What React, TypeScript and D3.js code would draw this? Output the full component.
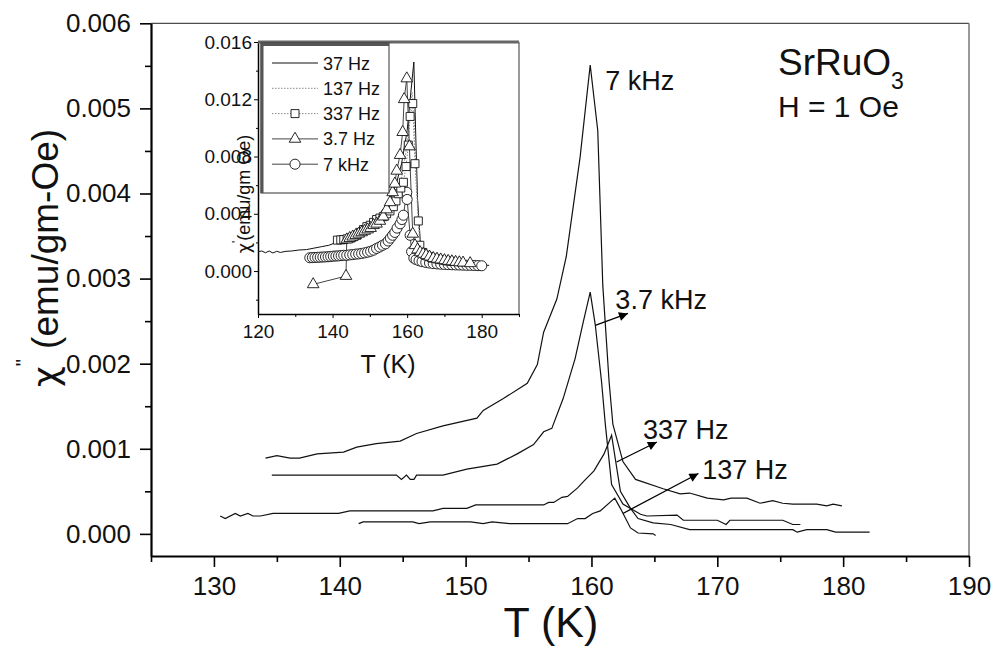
import React, { useEffect, useRef } from 'react';
import * as d3 from 'd3';

const width = 992;
const height = 647;

// main panel: [T (K), chi'' (emu/gm-Oe)]
const kHz7 = [
  [134.1, 0.00089], [135.0, 0.00092], [136.05, 0.00089], [136.8, 0.00089], [138.2, 0.00094],
  [140.3, 0.00096], [141.35, 0.00102], [142.9, 0.00106], [144.8, 0.00109], [146.1, 0.00118],
  [148.2, 0.00127], [150.9, 0.00136], [151.4, 0.00145], [153.0, 0.00159], [154.9, 0.00177],
  [155.7, 0.00199], [156.2, 0.00237], [157.25, 0.00276], [158.0, 0.00326], [159.1, 0.00443],
  [159.9, 0.00551], [160.5, 0.00474], [160.9, 0.00292], [161.4, 0.00179], [161.7, 0.00129],
  [162.5, 0.00085], [163.5, 0.00064], [165.7, 0.00053], [167.05, 0.00047], [167.8, 0.00048],
  [169.2, 0.00042], [170.5, 0.0004], [171.1, 0.00042], [172.35, 0.00042], [173.4, 0.00036],
  [174.4, 0.00039], [175.2, 0.00036], [176.0, 0.00035], [177.9, 0.00035], [178.7, 0.00033],
  [179.2, 0.00035], [179.9, 0.00033],
];
const kHz3p7 = [
  [134.6, 0.00069], [144.5, 0.00069], [144.9, 0.00064], [145.3, 0.00069], [145.6, 0.00064],
  [145.9, 0.00064], [146.1, 0.00069], [148.2, 0.00069], [150.1, 0.00076], [152.5, 0.00082],
  [154.1, 0.00094], [155.4, 0.00105], [156.2, 0.0012], [156.85, 0.00124], [157.75, 0.00159],
  [158.7, 0.00206], [159.35, 0.00249], [159.9, 0.00284], [160.3, 0.00246], [160.8, 0.00179],
  [161.1, 0.00129], [161.6, 0.00058], [162.5, 0.00035], [163.9, 0.00023], [164.4, 0.00021],
  [166.8, 0.00022], [167.3, 0.00016], [170.0, 0.00016], [170.7, 0.00011], [171.0, 0.00016],
  [175.2, 0.00016], [176.0, 0.00011], [176.6, 0.00011],
];
const hz337 = [
  [130.5, 0.00021], [130.9, 0.00018], [131.7, 0.00024], [132.1, 0.00021], [132.7, 0.00024],
  [133.1, 0.00021], [133.7, 0.00021], [134.7, 0.00024], [139.9, 0.00024], [140.8, 0.00027],
  [147.4, 0.00027], [148.2, 0.0003], [150.1, 0.0003], [150.8, 0.00034], [156.2, 0.00034],
  [156.6, 0.00037], [157.0, 0.00037], [157.65, 0.00043], [158.1, 0.00044], [158.9, 0.00054],
  [159.4, 0.00062], [160.2, 0.00074], [161.0, 0.00094], [161.6, 0.00116], [162.3, 0.0005],
  [163.1, 0.0003], [163.7, 0.00018], [164.9, 0.00013], [166.3, 0.00011], [167.8, 0.00005],
  [176.0, 0.00005], [176.35, 0.00002], [177.1, 0.00005], [178.7, 0.00005], [179.4, 0.00002],
  [182.1, 0.00002],
];
const hz137 = [
  [141.5, 0.00012], [141.85, 0.00014], [145.8, 0.00014], [146.3, 0.00012], [147.2, 0.00014],
  [150.4, 0.00014], [151.4, 0.00012], [152.1, 0.00014], [153.5, 0.00012], [158.1, 0.00012],
  [158.9, 0.00018], [159.5, 0.00018], [160.1, 0.00024], [160.7, 0.00027], [161.85, 0.00042],
  [162.3, 0.0003], [163.1, 0.00007], [163.7, 0.00001], [164.9, 0.0], [165.1, -0.00002],
];

// callouts: label, arrow tail on curve [T, chi], arrow head [T, chi]
const callouts = [
  { label: '3.7 kHz', from: [160.3, 0.00245], to: [162.9, 0.00259], at: [161.9, 0.00264] },
  { label: '337 Hz', from: [162.0, 0.000845], to: [165.2, 0.00108], at: [164.1, 0.00112] },
  { label: '137 Hz', from: [162.5, 0.00024], to: [168.5, 0.00071], at: [168.8, 0.00064] },
  { label: '7 kHz', from: null, to: null, at: [161.1, 0.00522] },
];

const xMajor = [130, 140, 150, 160, 170, 180, 190];
const xMinor = [125, 135, 145, 155, 165, 175, 185];
const yMajor = [0, 0.001, 0.002, 0.003, 0.004, 0.005, 0.006];
const yMinor = [0.0005, 0.0015, 0.0025, 0.0035, 0.0045, 0.0055];

// inset: [T (K), chi' (emu/gm Oe)]
const inset37Hz = [
  [120, 0.00135], [121, 0.0014], [122, 0.00128], [123, 0.0014], [124, 0.00126], [125, 0.00138],
  [126, 0.0013], [127.5, 0.00138], [129, 0.0014], [131, 0.00147], [133, 0.0015], [135, 0.0016],
  [137, 0.0017], [139, 0.0018], [141, 0.002], [144, 0.0024], [148, 0.003], [152, 0.0038],
  [155, 0.0048], [157, 0.006], [158.5, 0.0075], [160, 0.0098], [161, 0.0125], [161.8, 0.0146],
  [162.3, 0.0095], [162.8, 0.005], [163.5, 0.0022], [164.5, 0.0013], [166, 0.001], [170, 0.0007],
  [175, 0.0005], [180, 0.0004], [182, 0.0004],
];
const inset137Hz = [
  [141, 0.0021], [144, 0.0023], [148, 0.0028], [152, 0.0035], [155, 0.0043], [157, 0.0052],
  [158.5, 0.0065], [159.8, 0.0085], [160.7, 0.011], [161.3, 0.0125], [161.8, 0.0115],
  [162.4, 0.007], [163, 0.0035], [163.8, 0.0016], [165, 0.0011], [168, 0.00085], [172, 0.0007],
  [176, 0.00058], [178, 0.00055],
];
const inset337Hz = [
  [141.3, 0.00216], [142.2, 0.00218], [143, 0.0022], [143.9, 0.00225], [144.8, 0.0023],
  [145.6, 0.0024], [146.5, 0.0025], [147.4, 0.0027], [148.3, 0.0029], [149.2, 0.0031],
  [150.1, 0.0032], [151, 0.0034], [151.8, 0.0036], [152.7, 0.0037], [153.6, 0.0038],
  [154.5, 0.004], [155.4, 0.0042], [156.3, 0.0045], [157, 0.0049], [157.6, 0.0054],
  [158.3, 0.0058], [159, 0.0062], [159.7, 0.0073], [160.3, 0.0088], [160.8, 0.0108],
  [161.5, 0.0117], [162.1, 0.0075], [163, 0.0035], [163.4, 0.0018], [164.2, 0.0013],
  [165, 0.0011], [166, 0.001], [167, 0.0009], [168, 0.00085], [169, 0.0008], [170, 0.00075],
  [171, 0.0007], [172, 0.00068],
];
const inset3p7Hz = [
  [134.8, -0.00093], [143.6, -0.00035], [143.8, 0.0022], [144.6, 0.0023], [145.4, 0.0024],
  [146.2, 0.0025], [147, 0.0026], [147.8, 0.0027], [148.6, 0.0028], [149.4, 0.0029],
  [150.2, 0.003], [151, 0.0032], [151.8, 0.0033], [152.7, 0.0035], [153.6, 0.0038],
  [154.5, 0.0043], [155.4, 0.0048], [156.1, 0.0055], [156.7, 0.0061], [157.2, 0.007],
  [158.1, 0.0081], [158.8, 0.0097], [159.2, 0.012], [159.9, 0.01345], [160.6, 0.0087],
  [161.5, 0.0026], [162.1, 0.0018], [162.8, 0.0015], [163.5, 0.0013], [164.3, 0.0012],
  [165.1, 0.0011], [166, 0.001], [167, 0.0009], [168, 0.00085], [169, 0.0008], [170, 0.00075],
  [171, 0.0007], [172, 0.00067], [173, 0.00063], [174, 0.0006], [175, 0.00058], [176.9, 0.00054],
];
const inset7kHz = [
  [133.9, 0.00093], [134.6, 0.00094], [135.3, 0.00095], [136, 0.00096], [136.7, 0.00097],
  [137.4, 0.00098], [138.1, 0.00099], [138.8, 0.001], [139.5, 0.00102], [140.2, 0.00104],
  [140.9, 0.00105], [141.6, 0.00106], [142.3, 0.00108], [143, 0.0011], [143.8, 0.0011],
  [144.6, 0.00113], [145.4, 0.00115], [146.2, 0.00118], [147, 0.0012], [147.8, 0.00123],
  [148.6, 0.00127], [149.4, 0.00132], [150.2, 0.00138], [151, 0.00146], [151.8, 0.00158],
  [152.6, 0.00168], [153.4, 0.0018], [154.2, 0.0019], [154.9, 0.0021], [155.5, 0.0023],
  [156.1, 0.0025], [156.7, 0.0027], [157.3, 0.003], [158.1, 0.0033], [158.6, 0.0036],
  [159, 0.0039], [159.9, 0.0055], [160, 0.005], [160.8, 0.0025], [161.2, 0.00135],
  [161.8, 0.0009], [162.4, 0.0008], [163.2, 0.00072], [164, 0.00066], [165, 0.0006],
  [166, 0.00056], [167, 0.00052], [168, 0.0005], [169, 0.00048], [170, 0.00046], [171, 0.00045],
  [172, 0.00044], [173, 0.00043], [174, 0.00042], [175, 0.00041], [176, 0.0004], [177, 0.0004],
  [178, 0.00039], [179, 0.00038], [180, 0.00037],
];
const insetLegend = ['37 Hz', '137 Hz', '337 Hz', '3.7 Hz', '7 kHz'];
const insetXTicks = [120, 140, 160, 180];
const insetXMinor = [130, 150, 170, 190];
const insetYTicks = [0, 0.004, 0.008, 0.012, 0.016];
const insetYMinor = [-0.002, 0.002, 0.006, 0.01, 0.014];

const font = "'Liberation Sans', Arial, Helvetica, sans-serif";

export default function App() {
  const ref = useRef<SVGSVGElement>(null);

  useEffect(() => {
    const svg = d3.select(ref.current);
    svg.selectAll('*').remove();

    const x = d3.scaleLinear().domain([125, 190]).range([151, 969]);
    const y = d3.scaleLinear().domain([-0.00026, 0.006]).range([556, 23.3]);

    svg.append('rect').attr('width', width).attr('height', height).attr('fill', '#fff');

    svg.append('defs').append('marker')
      .attr('id', 'arrow')
      .attr('viewBox', '0 0 10 10')
      .attr('refX', 10).attr('refY', 5)
      .attr('markerWidth', 12).attr('markerHeight', 9)
      .attr('markerUnits', 'userSpaceOnUse')
      .attr('orient', 'auto')
      .append('path').attr('d', 'M0,0L10,5L0,10z').attr('fill', '#000');

    // frame top / right
    svg.append('line').attr('x1', 151).attr('x2', 969).attr('y1', 23.3).attr('y2', 23.3)
      .attr('stroke', '#222').attr('stroke-width', 1);
    svg.append('line').attr('x1', 969).attr('x2', 969).attr('y1', 23.3).attr('y2', 556)
      .attr('stroke', '#777').attr('stroke-width', 1.5);

    const styleAxis = (g, size) => {
      g.select('.domain').attr('stroke-width', 2.2);
      g.selectAll('.tick line').attr('stroke-width', 1.6);
      g.selectAll('text').attr('font-family', font).attr('font-size', size).attr('fill', '#111');
    };

    const xAxis = svg.append('g').attr('transform', 'translate(0,556)')
      .call(d3.axisBottom(x).tickValues(xMajor).tickSize(11).tickPadding(10).tickSizeOuter(0)
        .tickFormat(d3.format('d')));
    styleAxis(xAxis, 26);
    svg.append('g').attr('transform', 'translate(0,556)')
      .call(d3.axisBottom(x).tickValues(xMinor).tickSize(6).tickFormat(() => '').tickSizeOuter(0))
      .call((g) => { g.select('.domain').remove(); g.selectAll('line').attr('stroke-width', 1.6); });

    const yAxis = svg.append('g').attr('transform', 'translate(151,0)')
      .call(d3.axisLeft(y).tickValues(yMajor).tickSize(11).tickPadding(9).tickSizeOuter(0)
        .tickFormat(d3.format('.3f')));
    styleAxis(yAxis, 26);
    svg.append('g').attr('transform', 'translate(151,0)')
      .call(d3.axisLeft(y).tickValues(yMinor).tickSize(6).tickFormat(() => '').tickSizeOuter(0))
      .call((g) => { g.select('.domain').remove(); g.selectAll('line').attr('stroke-width', 1.6); });

    const line = d3.line().x((d) => x(d[0])).y((d) => y(d[1]));
    [kHz7, kHz3p7, hz337, hz137].forEach((s) => {
      svg.append('path').attr('d', line(s)).attr('fill', 'none')
        .attr('stroke', '#111').attr('stroke-width', 1.2);
    });

    callouts.forEach((c) => {
      if (c.from) {
        svg.append('line')
          .attr('x1', x(c.from[0])).attr('y1', y(c.from[1]))
          .attr('x2', x(c.to[0])).attr('y2', y(c.to[1]))
          .attr('stroke', '#000').attr('stroke-width', 1.3)
          .attr('marker-end', 'url(#arrow)');
      }
      svg.append('text').attr('x', x(c.at[0])).attr('y', y(c.at[1]))
        .attr('font-family', font).attr('font-size', 27).attr('fill', '#111').text(c.label);
    });

    // sample label
    const t1 = svg.append('text').attr('x', 778).attr('y', 75)
      .attr('font-family', font).attr('font-size', 37).attr('fill', '#111');
    t1.append('tspan').text('SrRuO');
    t1.append('tspan').attr('font-size', 23).attr('dy', 14).text('3');
    svg.append('text').attr('x', 778).attr('y', 117)
      .attr('font-family', font).attr('font-size', 30).attr('fill', '#111').text('H = 1 Oe');

    // axis titles
    svg.append('text').attr('x', 551).attr('y', 637).attr('text-anchor', 'middle')
      .attr('font-family', font).attr('font-size', 43).attr('fill', '#111').text('T (K)');
    const yl = svg.append('text').attr('transform', 'translate(58,258) rotate(-90)')
      .attr('text-anchor', 'middle')
      .attr('font-family', font).attr('font-size', 37).attr('fill', '#111');
    yl.append('tspan').attr('font-family', "'DejaVu Sans', sans-serif").attr('font-size', 36)
      .text('\u03c7');
    yl.append('tspan').attr('font-size', 20).attr('dy', -28).text('"');
    yl.append('tspan').attr('dy', 28).text(' (emu/gm-Oe)');

    // ---------- inset ----------
    const xi = d3.scaleLinear().domain([120, 190]).range([258, 519]);
    const yi = d3.scaleLinear().domain([-0.003, 0.016]).range([314, 42]);
    const inset = svg.append('g');
    inset.append('rect').attr('x', 258).attr('y', 42).attr('width', 261).attr('height', 272)
      .attr('fill', '#fff');

    const ixAxis = inset.append('g').attr('transform', 'translate(0,314)')
      .call(d3.axisBottom(xi).tickValues(insetXTicks).tickSize(4).tickPadding(7).tickSizeOuter(0));
    ixAxis.select('.domain').attr('stroke-width', 1.5);
    ixAxis.selectAll('text').attr('font-family', font).attr('font-size', 19).attr('fill', '#111');
    inset.append('g').attr('transform', 'translate(0,314)')
      .call(d3.axisBottom(xi).tickValues(insetXMinor).tickSize(3).tickFormat(() => '').tickSizeOuter(0))
      .call((g) => g.select('.domain').remove());

    const iyAxis = inset.append('g').attr('transform', 'translate(258,0)')
      .call(d3.axisLeft(yi).tickValues(insetYTicks).tickSize(4).tickPadding(2).tickSizeOuter(0)
        .tickFormat(d3.format('.3f')));
    iyAxis.select('.domain').attr('stroke-width', 1.5);
    iyAxis.selectAll('text').attr('font-family', font).attr('font-size', 19).attr('fill', '#111');
    inset.append('g').attr('transform', 'translate(258,0)')
      .call(d3.axisLeft(yi).tickValues(insetYMinor).tickSize(2).tickFormat(() => '').tickSizeOuter(0))
      .call((g) => g.select('.domain').remove());

    inset.append('line').attr('x1', 258).attr('x2', 519).attr('y1', 42).attr('y2', 42)
      .attr('stroke', '#666').attr('stroke-width', 3);
    inset.append('line').attr('x1', 519).attr('x2', 519).attr('y1', 42).attr('y2', 314)
      .attr('stroke', '#777').attr('stroke-width', 1.5);

    const iline = d3.line().x((d) => xi(d[0])).y((d) => yi(d[1]));
    inset.append('path').attr('d', iline(inset37Hz)).attr('fill', 'none')
      .attr('stroke', '#111').attr('stroke-width', 1);
    inset.append('path').attr('d', iline(inset137Hz)).attr('fill', 'none')
      .attr('stroke', '#888').attr('stroke-width', 1).attr('stroke-dasharray', '1.5,1.5');
    inset.append('path').attr('d', iline(inset337Hz)).attr('fill', 'none')
      .attr('stroke', '#888').attr('stroke-width', 1).attr('stroke-dasharray', '1.5,1.5');
    inset.append('path').attr('d', iline(inset3p7Hz)).attr('fill', 'none')
      .attr('stroke', '#444').attr('stroke-width', 1);
    inset.append('path').attr('d', iline(inset7kHz)).attr('fill', 'none')
      .attr('stroke', '#444').attr('stroke-width', 1);

    const sq = d3.symbol().type(d3.symbolSquare).size(64);
    const tri = d3.symbol().type(d3.symbolTriangle).size(58);
    const circ = d3.symbol().type(d3.symbolCircle).size(80);
    const drawMarks = (data, sym) => {
      inset.append('g').selectAll('path').data(data).join('path')
        .attr('transform', (d) => `translate(${xi(d[0])},${yi(d[1])})`)
        .attr('d', sym())
        .attr('fill', '#fff').attr('stroke', '#111').attr('stroke-width', 0.9);
    };
    drawMarks(inset7kHz, circ);
    drawMarks(inset337Hz, sq);
    drawMarks(inset3p7Hz, tri);

    // legend
    const lg = inset.append('g');
    lg.append('rect').attr('x', 261).attr('y', 43).attr('width', 128).attr('height', 150)
      .attr('fill', '#fff').attr('stroke', '#333').attr('stroke-width', 1);
    lg.append('path').attr('d', 'M262,193V44.5H389').attr('fill', 'none')
      .attr('stroke', '#555').attr('stroke-width', 3);
    const legendStyles = [
      { stroke: '#111', dash: null, sym: null },
      { stroke: '#888', dash: '1.5,1.5', sym: null },
      { stroke: '#888', dash: '1.5,1.5', sym: sq },
      { stroke: '#444', dash: null, sym: tri },
      { stroke: '#444', dash: null, sym: circ },
    ];
    insetLegend.forEach((name, i) => {
      const yy = 63 + i * 25.3;
      const st = legendStyles[i];
      lg.append('line').attr('x1', 272).attr('x2', 318).attr('y1', yy).attr('y2', yy)
        .attr('stroke', st.stroke).attr('stroke-width', 1)
        .attr('stroke-dasharray', st.dash);
      if (st.sym) {
        lg.append('path').attr('transform', `translate(295,${yy})`).attr('d', st.sym())
          .attr('fill', '#fff').attr('stroke', '#111').attr('stroke-width', 0.9);
      }
      lg.append('text').attr('x', 323).attr('y', yy + 6.5)
        .attr('font-family', font).attr('font-size', 18).attr('fill', '#111').text(name);
    });

    inset.append('text').attr('x', 388).attr('y', 373).attr('text-anchor', 'middle')
      .attr('font-family', font).attr('font-size', 25).attr('fill', '#111').text('T (K)');
    const iyl = inset.append('text').attr('transform', 'translate(250,194) rotate(-90)')
      .attr('text-anchor', 'middle')
      .attr('font-family', font).attr('font-size', 18).attr('fill', '#111');
    iyl.append('tspan').attr('font-family', "'DejaVu Sans', sans-serif").text('\u03c7');
    iyl.append('tspan').attr('font-size', 12).attr('dy', -9).text("'");
    iyl.append('tspan').attr('dy', 9).text('(emu/gm Oe)');
  }, []);

  return (
    <svg ref={ref} width={width} height={height}
      style={{ position: 'absolute', left: 0, top: 0, display: 'block' }} />
  );
}
